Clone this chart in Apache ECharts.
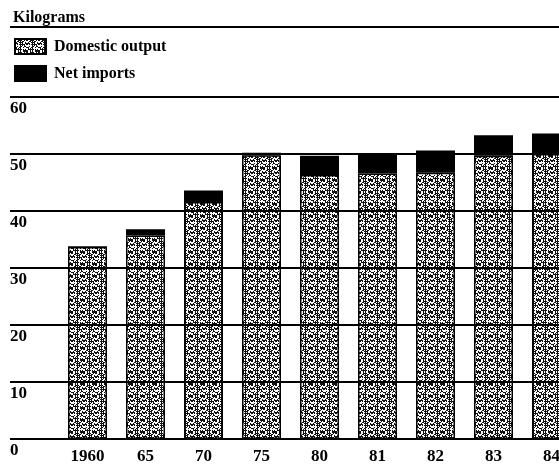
<!DOCTYPE html>
<html>
<head>
<meta charset="utf-8">
<script src="https://cdn.jsdelivr.net/npm/echarts@6/dist/echarts.min.js"></script>
<style>
html,body{margin:0;padding:0;background:#fff;}
#chart{width:559px;height:466px;}
</style>
</head>
<body>
<div id="chart"></div>
<script>
const categories = ['1960', '65', '70', '75', '80', '81', '82', '83', '84'];
const domesticOutput = [33.7, 35.7, 41.6, 49.8, 46.3, 46.6, 46.7, 49.7, 50.0];
const netImports = [0, 1.1, 2.0, 0.4, 3.4, 3.5, 3.9, 3.6, 3.6];
const yTicks = [0, 10, 20, 30, 40, 50, 60];

const FONT = '"Liberation Serif", "DejaVu Serif", serif';

// stipple texture (deterministic)
const pc = document.createElement('canvas');
pc.width = 12; pc.height = 12;
const pctx = pc.getContext('2d');
pctx.fillStyle = '#ffffff';
pctx.fillRect(0, 0, 12, 12);
pctx.fillStyle = '#111111';
for (let y = 0; y < 12; y++) {
  for (let x = 0; x < 12; x++) {
    const h = (x * 37 + y * 91 + x * y * 17 + x * x * 5) % 11;
    if (h < 5) pctx.fillRect(x, y, 1, 1);
  }
}

const chart = echarts.init(document.getElementById('chart'), null, {renderer: 'canvas'});
chart.setOption({
  animation: false,
  backgroundColor: '#ffffff',
  title: {
    text: 'Kilograms',
    left: 8, top: 5,
    textStyle: {fontFamily: FONT, fontSize: 16, fontWeight: 'bold', color: '#000'}
  },
  legend: {
    orient: 'vertical',
    left: 9, top: 33,
    icon: 'rect',
    itemWidth: 31, itemHeight: 15, itemGap: 10,
    textStyle: {fontFamily: FONT, fontSize: 16, fontWeight: 'bold', color: '#000', padding: [0, 0, 0, 3]},
    data: ['Domestic output', 'Net imports']
  },
  graphic: [{
    type: 'line', z: 100,
    shape: {x1: 10, y1: 27, x2: 559, y2: 27},
    style: {stroke: '#000', lineWidth: 2}
  }],
  grid: [
    {left: 58.5, width: 522, top: 97, bottom: 27, outerBoundsMode: 'none', containLabel: false},
    {left: 10, right: 0, top: 97, bottom: 27}
  ],
  xAxis: [
    {
      type: 'category', gridIndex: 0, data: categories,
      axisLine: {show: false}, axisTick: {show: false},
      axisLabel: {fontFamily: FONT, fontSize: 17, fontWeight: 'bold', color: '#000', margin: 9}
    },
    {type: 'value', gridIndex: 1, min: 0, max: 1, show: false}
  ],
  yAxis: [
    {type: 'value', gridIndex: 0, min: 0, max: 60, show: false},
    {
      type: 'value', gridIndex: 1, min: 0, max: 60, interval: 10, z: 10,
      axisLine: {show: false}, axisTick: {show: false},
      splitLine: {show: true, lineStyle: {color: '#000', width: 2}},
      axisLabel: {
        fontFamily: FONT, fontSize: 17, fontWeight: 'bold', color: '#000',
        align: 'left', verticalAlign: 'top', margin: 0, padding: [3, 0, 0, 0],
        formatter: v => yTicks.indexOf(v) >= 0 ? String(v) : ''
      }
    }
  ],
  series: [
    {
      name: 'Domestic output', type: 'bar', stack: 'total',
      xAxisIndex: 0, yAxisIndex: 0,
      barWidth: 39,
      data: domesticOutput,
      itemStyle: {color: {image: pc, repeat: 'repeat'}, borderColor: '#000', borderWidth: 1.5}
    },
    {
      name: 'Net imports', type: 'bar', stack: 'total',
      xAxisIndex: 0, yAxisIndex: 0,
      barWidth: 39,
      data: netImports,
      itemStyle: {color: '#000', borderColor: '#000', borderWidth: 1.5}
    }
  ]
});
</script>
</body>
</html>
